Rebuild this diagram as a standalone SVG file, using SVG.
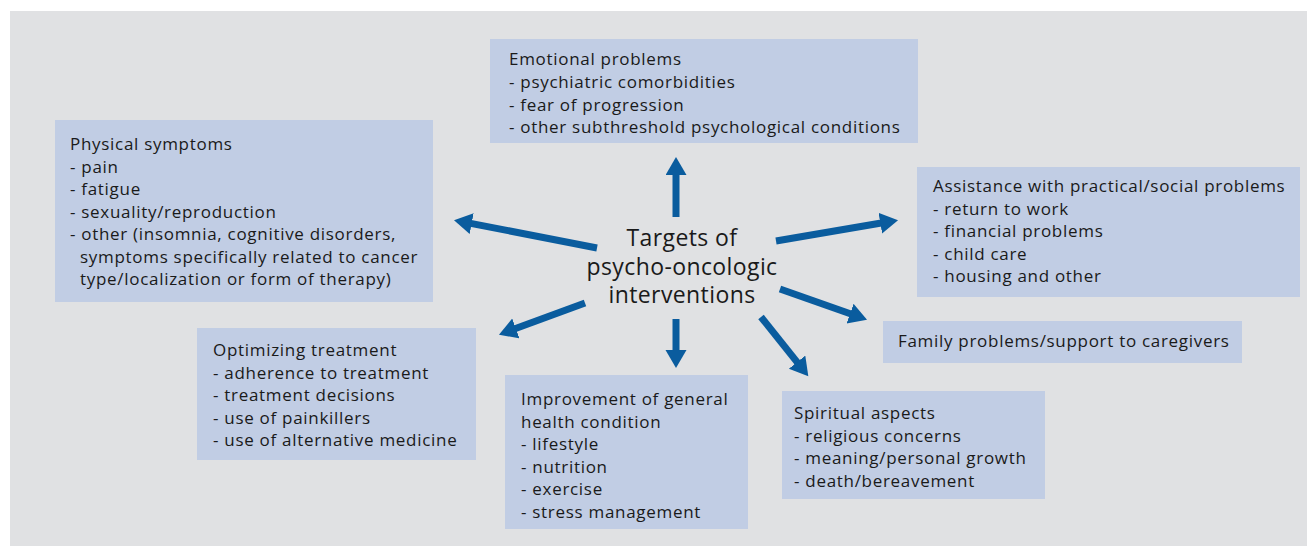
<svg xmlns="http://www.w3.org/2000/svg" width="1307" height="546" viewBox="0 0 1307 546">
  <style>
    .bg { fill: #e0e1e3; }
    .box { fill: #c1cde4; }
    .t { font-family: "Open Sans", "Liberation Sans", sans-serif; font-size: 17px; letter-spacing: 0.7px; fill: #1a1a1a; }
    .hub { font-family: "Open Sans", "Liberation Sans", sans-serif; font-size: 23px; letter-spacing: 0.4px; fill: #1a1a1a; text-anchor: middle; }
    .arrow { stroke: #0a5c9e; stroke-width: 7; fill: none; marker-end: url(#head); }
  </style>
  <defs>
    <marker id="head" markerUnits="userSpaceOnUse" markerWidth="20" markerHeight="22" refX="1" refY="10.5" orient="auto" viewBox="0 0 20 22">
      <path d="M0,0 L18,10.5 L0,21 Z" fill="#0a5c9e"/>
    </marker>
  </defs>

  <rect class="bg" x="10" y="11" width="1297" height="535"/>

  <!-- hub label -->
  <g id="hub">
    <text class="hub" x="682" y="246">Targets of</text>
    <text class="hub" x="682" y="275">psycho-oncologic</text>
    <text class="hub" x="682" y="303">interventions</text>
  </g>

  <!-- connectors from the hub to each target -->
  <g id="connectors">
    <line class="arrow" x1="676" y1="217" x2="676" y2="174"/>
    <line class="arrow" x1="597" y1="248" x2="470.7" y2="223.4"/>
    <line class="arrow" x1="776" y1="241" x2="881.3" y2="223"/>
    <line class="arrow" x1="585" y1="303" x2="514.9" y2="328.8"/>
    <line class="arrow" x1="676" y1="319" x2="676" y2="351"/>
    <line class="arrow" x1="761" y1="317" x2="797.7" y2="362.9"/>
    <line class="arrow" x1="780" y1="289" x2="851" y2="314"/>
  </g>

  <g id="emotional">
    <rect class="box" x="490" y="39" width="428" height="104"/>
    <text class="t" x="509" y="65">Emotional problems</text>
    <text class="t" x="509" y="88">- psychiatric comorbidities</text>
    <text class="t" x="509" y="110.5">- fear of progression</text>
    <text class="t" x="509" y="133">- other subthreshold psychological conditions</text>
  </g>

  <g id="physical">
    <rect class="box" x="55" y="120" width="378" height="182"/>
    <text class="t" x="70" y="150">Physical symptoms</text>
    <text class="t" x="70" y="172.5">- pain</text>
    <text class="t" x="70" y="195">- fatigue</text>
    <text class="t" x="70" y="217.5">- sexuality/reproduction</text>
    <text class="t" x="70" y="240">- other (insomnia, cognitive disorders,</text>
    <text class="t" x="80" y="262.5">symptoms specifically related to cancer</text>
    <text class="t" x="80" y="285">type/localization or form of therapy)</text>
  </g>

  <g id="assistance">
    <rect class="box" x="917" y="167" width="383" height="130"/>
    <text class="t" x="933" y="192">Assistance with practical/social problems</text>
    <text class="t" x="933" y="214.5">- return to work</text>
    <text class="t" x="933" y="237">- financial problems</text>
    <text class="t" x="933" y="259.5">- child care</text>
    <text class="t" x="933" y="282">- housing and other</text>
  </g>

  <g id="family">
    <rect class="box" x="883" y="321" width="359" height="42"/>
    <text class="t" x="898" y="346.5">Family problems/support to caregivers</text>
  </g>

  <g id="spiritual">
    <rect class="box" x="782" y="391" width="263" height="108"/>
    <text class="t" x="794" y="419">Spiritual aspects</text>
    <text class="t" x="794" y="441.5">- religious concerns</text>
    <text class="t" x="794" y="464">- meaning/personal growth</text>
    <text class="t" x="794" y="486.5">- death/bereavement</text>
  </g>

  <g id="improvement">
    <rect class="box" x="505" y="375" width="243" height="154"/>
    <text class="t" x="521" y="405">Improvement of general</text>
    <text class="t" x="521" y="427.5">health condition</text>
    <text class="t" x="521" y="450">- lifestyle</text>
    <text class="t" x="521" y="472.5">- nutrition</text>
    <text class="t" x="521" y="495">- exercise</text>
    <text class="t" x="521" y="517.5">- stress management</text>
  </g>

  <g id="optimizing">
    <rect class="box" x="197" y="328" width="279" height="132"/>
    <text class="t" x="213" y="356">Optimizing treatment</text>
    <text class="t" x="213" y="378.5">- adherence to treatment</text>
    <text class="t" x="213" y="401">- treatment decisions</text>
    <text class="t" x="213" y="423.5">- use of painkillers</text>
    <text class="t" x="213" y="446">- use of alternative medicine</text>
  </g>
</svg>
